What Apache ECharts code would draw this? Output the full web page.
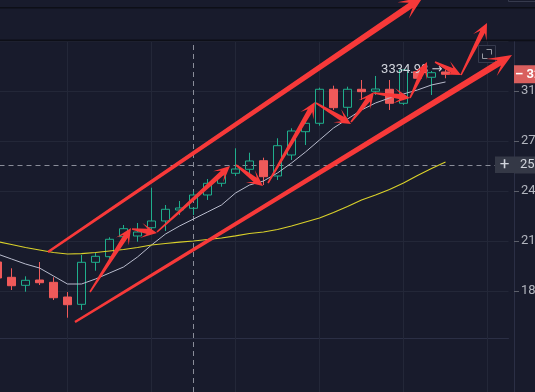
<!DOCTYPE html>
<html><head><meta charset="utf-8">
<script src="https://cdn.jsdelivr.net/npm/echarts@6/dist/echarts.min.js"></script>
<style>html,body{margin:0;padding:0;background:#181b2c;overflow:hidden}#c{width:535px;height:392px}</style>
</head><body><div id="c"></div>
<script>
// ---- data ----
const categories = ['1','2','3','4','5','6','7','8','9','10','11','12','13','14','15','16','17','18','19','20','21','22','23','24','25','26','27','28','29','30','31','32','33'];
const emptySlots = ['', '', '', ''];
const open  = [1989.1,1909.0,1868.4,1895.2,1883.5,1810.6,1775.5,1987.5,2017.6,2128.9,2132.9,2180.9,2220.6,2287.1,2297.6,2381.1,2457.0,2523.9,2551.1,2610.7,2505.6,2651.0,2822.1,2886.5,3162.4,3013.2,3162.4,3145.5,3162.4,3045.7,3315.4,3266.0,3312.7];
const close = [1905.4,1866.4,1893.7,1881.5,1807.2,1773.6,1987.5,2019.7,2114.1,2175.1,2155.9,2220.6,2291.4,2299.4,2381.1,2457.0,2512.4,2553.2,2608.6,2501.0,2718.0,2827.4,2886.5,3162.4,3010.0,3162.4,3142.1,3164.9,3045.7,3330.6,3257.2,3306.5,3292.4];
const low   = [1885.0,1845.0,1836.6,1869.9,1796.1,1712.8,1748.5,1943.2,1990.7,2100.5,2100.5,2157.7,2161.7,2256.6,2256.6,2349.4,2434.7,2505.6,2501.0,2445.8,2478.9,2615.6,2723.1,2868.0,2991.5,2938.1,3072.9,3114.4,2991.5,3031.9,3225.0,3114.4,3257.2];
const high  = [2010.5,1955.7,1914.1,1989.1,1909.0,1835.1,2026.8,2039.3,2125.5,2196.8,2208.7,2428.1,2318.0,2343.1,2402.3,2485.5,2546.3,2699.1,2667.4,2631.9,2772.6,2848.0,2898.9,3176.0,3193.1,3184.6,3242.3,3277.4,3242.3,3333.5,3325.0,3321.7,3334.98];
const maFast = [2032.2,2005.2,1978.4,1957.3,1915.7,1875.0,1875.0,1900.3,1931.2,1962.5,2016.0,2081.9,2144.4,2190.9,2232.5,2274.8,2318.0,2393.9,2445.8,2472.3,2525.9,2594.6,2672.4,2760.0,2850.3,2920.0,2991.5,3048.2,3089.4,3122.8,3156.5,3199.1,3225.0];
const maSlow = [2101.6,2084.8,2068.0,2054.2,2040.5,2032.2,2033.9,2040.5,2048.7,2057.0,2068.0,2081.9,2090.3,2097.6,2104.4,2112.9,2121.4,2134.0,2147.3,2155.9,2170.4,2190.9,2214.6,2238.5,2271.8,2308.7,2349.4,2381.1,2416.5,2459.0,2509.0,2556.6,2601.6];
const yMin = 1622, yMax = 3600;
const lowestTick = 1840, lowestTickExponent = 56;   // log ticks: 1840, 2104, 2406, 2751, 3148
const gridLineSlots = [5, 11, 17, 23, 29, 35];
const crosshairSlot = 14;
const crosshairPrice = 2581;
// annotation arrows drawn on top of the screenshot: [x1, y1, x2, y2, big]
const annotationArrows = [
  [48,252,423,-3,1],[75,322,512,55,1],
  [90,292,131,228,0],[132,229,157,233,0],[157,232,230,166,0],[236,165,263,186,0],
  [268,183,315,102,0],[316,103,351,124,0],[351,122,374,92,0],[374,93,410,98,0],
  [410,98,427,62,0],[435,62,461,75,0],[461,75,487,23,0]
];

// ---- chart ----
const logBase = Math.exp(Math.log(lowestTick) / lowestTickExponent);
const allCats = categories.concat(emptySlots);
const ohlc = open.map((o, i) => [o, close[i], low[i], high[i]]);
const lastClose = close[close.length - 1];
const FONT = 'Roboto, "DejaVu Sans", sans-serif';
const BG = '#181b2c', GRID = '#232738', AXIS = '#2b2f45', TXT = '#b2b5be';
const UP = '#1fae8c', DOWN = '#ef5a5a', ARROW = '#f73939';
const crossStyle = {color: '#8a8d99', type: [5, 4], width: 1};

function arrowPoly(x1, y1, x2, y2, big) {
  const tw = big ? 1.2 : 0.8, sw = big ? 3.2 : 2.6, hl = big ? 24 : 16, hw = big ? 10 : 7.5;
  const dx = x2 - x1, dy = y2 - y1, L = Math.hypot(dx, dy), ux = dx / L, uy = dy / L, nx = -uy, ny = ux;
  const bx = x2 - ux * hl * 0.62, by = y2 - uy * hl * 0.62;
  const wx = x2 - ux * hl, wy = y2 - uy * hl;
  return [[x1 + nx * tw, y1 + ny * tw], [bx + nx * sw, by + ny * sw], [wx + nx * hw, wy + ny * hw], [x2, y2],
          [wx - nx * hw, wy - ny * hw], [bx - nx * sw, by - ny * sw], [x1 - nx * tw, y1 - ny * tw]];
}

const graphics = [
  {type: 'rect', shape: {x: 0, y: 7, width: 535, height: 1.5}, style: {fill: '#0d0f17'}, z: 50},
  {type: 'rect', shape: {x: 0, y: 39.5, width: 535, height: 1.8}, style: {fill: '#0d0f17'}, z: 50},
  {type: 'rect', shape: {x: 508.5, y: -10, width: 40, height: 11.5}, style: {fill: 'none', stroke: '#363a4d', lineWidth: 1}, z: 50},
  {type: 'rect', shape: {x: 478.5, y: 45.5, width: 17, height: 17}, style: {fill: BG, stroke: '#363a4d', lineWidth: 1}, z: 50},
  {type: 'polyline', shape: {points: [[486.5, 49.5], [491.5, 49.5], [491.5, 54.5]]}, style: {stroke: '#9598a1', lineWidth: 1, fill: 'none'}, z: 51},
  {type: 'polyline', shape: {points: [[482.5, 53.5], [482.5, 58.5], [487.5, 58.5]]}, style: {stroke: '#9598a1', lineWidth: 1, fill: 'none'}, z: 51},
  {type: 'rect', shape: {x: 495, y: 156.5, width: 19, height: 16.5}, style: {fill: '#343846'}, z: 50},
  {type: 'text', x: 504.5, y: 165, style: {text: '+', fill: '#d1d4dc', fontSize: 17, fontFamily: FONT, align: 'center', verticalAlign: 'middle'}, z: 51}
].concat(annotationArrows.map(a => ({
  type: 'polygon', shape: {points: arrowPoly(a[0], a[1], a[2], a[3], a[4])}, style: {fill: ARROW}, z: 100
})));

const option = {
  backgroundColor: BG,
  animation: false,
  textStyle: {fontFamily: FONT},
  grid: [
    {left: -9.5, right: 26.5, top: 41, bottom: 54, outerBoundsMode: 'none', containLabel: false},
    {left: -9.5, right: 26.5, top: 338, bottom: 0, outerBoundsMode: 'none', containLabel: false}
  ],
  xAxis: [
    {type: 'category', gridIndex: 0, data: allCats, boundaryGap: true,
     axisLine: {show: true, lineStyle: {color: AXIS}}, axisTick: {show: false}, axisLabel: {show: false}, splitLine: {show: false}},
    {type: 'category', gridIndex: 1, data: allCats, boundaryGap: true,
     axisLine: {show: false}, axisTick: {show: false}, axisLabel: {show: false}, splitLine: {show: false}}
  ],
  yAxis: [
    {type: 'log', logBase: logBase, gridIndex: 0, min: yMin, max: yMax, position: 'right', offset: 5.5, splitNumber: 5,
     axisLine: {show: true, lineStyle: {color: AXIS}},
     axisTick: {show: true, length: 5, lineStyle: {color: '#5d606b'}},
     axisLabel: {color: TXT, fontSize: 13, margin: 7, showMinLabel: false, showMaxLabel: false, formatter: v => v.toFixed(2)},
     splitLine: {show: true, lineStyle: {color: GRID}}},
    {type: 'value', gridIndex: 1, min: 0, max: 1, position: 'right', offset: 5.5,
     axisLine: {show: true, lineStyle: {color: AXIS}}, axisTick: {show: false}, axisLabel: {show: false}, splitLine: {show: false}}
  ],
  graphic: graphics,
  series: [
    {type: 'line', xAxisIndex: 0, yAxisIndex: 0, data: [], silent: true, z: 1,
     markLine: {z: 1, silent: true, symbol: ['none', 'none'], label: {show: false}, lineStyle: {color: GRID, type: 'solid', width: 1},
       data: gridLineSlots.map(i => ({xAxis: i})).concat([
         {xAxis: crosshairSlot, lineStyle: crossStyle},
         {yAxis: crosshairPrice, lineStyle: crossStyle,
          label: {show: true, position: 'end', distance: 5.5, formatter: p => p.value.toFixed(2), color: '#d1d4dc',
                  backgroundColor: '#343846', fontSize: 13, fontFamily: FONT, padding: [2, 4, 2, 6], lineHeight: 13}}
       ])}},
    {type: 'candlestick', xAxisIndex: 0, yAxisIndex: 0, data: ohlc, barWidth: 8, z: 2,
     itemStyle: {color: 'rgba(0,0,0,0)', color0: DOWN, borderColor: UP, borderColor0: DOWN, borderWidth: 1},
     markPoint: {symbol: 'circle', symbolSize: 0, silent: true,
       data: [{type: 'max', valueDim: 'highest'}],
       label: {show: true, position: 'left', distance: 3, color: '#d1d4dc', fontSize: 13, fontFamily: FONT,
               formatter: p => p.value.toFixed(2) + ' \u2192'}},
     markLine: {z: 6, silent: true, symbol: ['none', 'none'],
       data: [{yAxis: lastClose, lineStyle: {color: 'rgba(0,0,0,0)'},
         label: {show: true, position: 'end', distance: 5.5, formatter: p => '\u2013 ' + p.value.toFixed(2),
                 color: '#ffffff', fontWeight: 'bold', backgroundColor: '#d95f5e', fontSize: 13, fontFamily: FONT,
                 padding: [3, 4, 2, 1], lineHeight: 13}}]}},
    {type: 'line', xAxisIndex: 0, yAxisIndex: 0, data: maFast, showSymbol: false, z: 3,
     lineStyle: {color: '#b9bccd', width: 1}},
    {type: 'line', xAxisIndex: 0, yAxisIndex: 0, data: maSlow, showSymbol: false, z: 3,
     lineStyle: {color: '#d9d02a', width: 1.2}},
    {type: 'line', xAxisIndex: 1, yAxisIndex: 1, data: [], silent: true, z: 1,
     markLine: {z: 1, silent: true, symbol: ['none', 'none'], label: {show: false}, lineStyle: {color: GRID, type: 'solid', width: 1},
       data: gridLineSlots.map(i => ({xAxis: i})).concat([{xAxis: crosshairSlot, lineStyle: crossStyle}])}}
  ]
};
const chart = echarts.init(document.getElementById('c'), null, {renderer: 'canvas', width: 535, height: 392});
chart.setOption(option);
</script>
</body></html>
